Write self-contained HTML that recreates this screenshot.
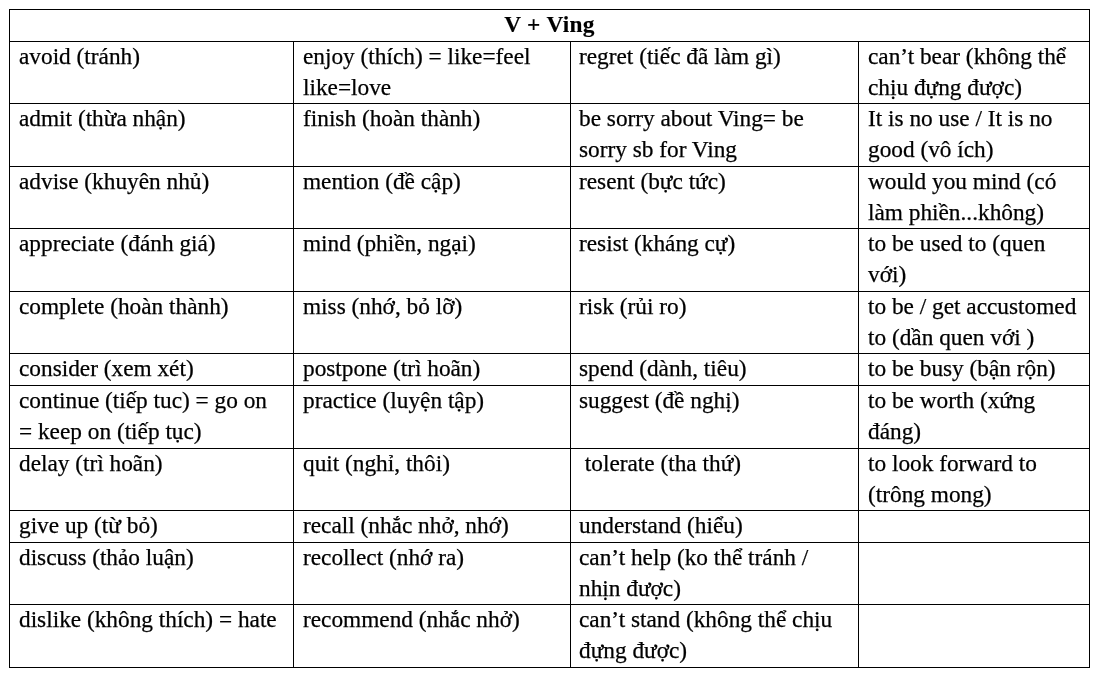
<!DOCTYPE html>
<html lang="vi">
<head>
<meta charset="utf-8">
<title>V + Ving</title>
<style>
html,body{margin:0;padding:0;background:#fff;}
body{width:1097px;height:677px;position:relative;overflow:hidden;
 font-family:"Liberation Serif","Times New Roman",Times,serif;font-size:23.3px;line-height:31.25px;color:#000;}
#sheet{position:absolute;left:0;top:0;width:1097px;height:677px;will-change:transform;}
.h,.v{position:absolute;background:#000;}
.h{height:1px;left:9px;width:1081px;}
.v{width:1px;}
.t{position:absolute;white-space:nowrap;margin:0;-webkit-text-stroke:0.25px #000;}
.hd{position:absolute;left:9px;width:1081px;text-align:center;font-weight:bold;white-space:nowrap;letter-spacing:0.35px;-webkit-text-stroke:0.15px #000;}
</style>
</head>
<body>
<div id="sheet">
<div class="h" style="top:9px"></div>
<div class="h" style="top:41px"></div>
<div class="h" style="top:103px"></div>
<div class="h" style="top:166px"></div>
<div class="h" style="top:228px"></div>
<div class="h" style="top:291px"></div>
<div class="h" style="top:353px"></div>
<div class="h" style="top:385px"></div>
<div class="h" style="top:448px"></div>
<div class="h" style="top:510px"></div>
<div class="h" style="top:542px"></div>
<div class="h" style="top:604px"></div>
<div class="h" style="top:667px"></div>
<div class="v" style="left:9px;top:9px;height:659px"></div>
<div class="v" style="left:1089px;top:9px;height:659px"></div>
<div class="v" style="left:293px;top:41px;height:627px"></div>
<div class="v" style="left:570px;top:41px;height:627px"></div>
<div class="v" style="left:858px;top:41px;height:627px"></div>
<div class="hd" style="top:9.00px">V + Ving</div>
<p class="t" style="left:19px;top:41.00px">avoid (tránh)</p>
<p class="t" style="left:303px;top:41.00px">enjoy (thích) = like=feel<br>like=love</p>
<p class="t" style="left:579px;top:41.00px">regret (tiếc đã làm gì)</p>
<p class="t" style="left:868px;top:41.00px">can’t bear (không thể<br>chịu đựng được)</p>
<p class="t" style="left:19px;top:103.00px">admit (thừa nhận)</p>
<p class="t" style="left:303px;top:103.00px">finish (hoàn thành)</p>
<p class="t" style="left:579px;top:103.00px">be sorry about Ving= be<br>sorry sb for Ving</p>
<p class="t" style="left:868px;top:103.00px">It is no use / It is no<br>good (vô ích)</p>
<p class="t" style="left:19px;top:166.00px">advise (khuyên nhủ)</p>
<p class="t" style="left:303px;top:166.00px">mention (đề cập)</p>
<p class="t" style="left:579px;top:166.00px">resent (bực tức)</p>
<p class="t" style="left:868px;top:166.00px">would you mind (có<br>làm phiền...không)</p>
<p class="t" style="left:19px;top:228.00px">appreciate (đánh giá)</p>
<p class="t" style="left:303px;top:228.00px">mind (phiền, ngại)</p>
<p class="t" style="left:579px;top:228.00px">resist (kháng cự)</p>
<p class="t" style="left:868px;top:228.00px">to be used to (quen<br>với)</p>
<p class="t" style="left:19px;top:291.00px">complete (hoàn thành)</p>
<p class="t" style="left:303px;top:291.00px">miss (nhớ, bỏ lỡ)</p>
<p class="t" style="left:579px;top:291.00px">risk (rủi ro)</p>
<p class="t" style="left:868px;top:291.00px">to be / get accustomed<br>to (dần quen với )</p>
<p class="t" style="left:19px;top:353.00px">consider (xem xét)</p>
<p class="t" style="left:303px;top:353.00px">postpone (trì hoãn)</p>
<p class="t" style="left:579px;top:353.00px">spend (dành, tiêu)</p>
<p class="t" style="left:868px;top:353.00px">to be busy (bận rộn)</p>
<p class="t" style="left:19px;top:385.00px">continue (tiếp tuc) = go on<br>= keep on (tiếp tục)</p>
<p class="t" style="left:303px;top:385.00px">practice (luyện tập)</p>
<p class="t" style="left:579px;top:385.00px">suggest (đề nghị)</p>
<p class="t" style="left:868px;top:385.00px">to be worth (xứng<br>đáng)</p>
<p class="t" style="left:19px;top:448.00px">delay (trì hoãn)</p>
<p class="t" style="left:303px;top:448.00px">quit (nghỉ, thôi)</p>
<p class="t" style="left:579px;top:448.00px">&nbsp;tolerate (tha thứ)</p>
<p class="t" style="left:868px;top:448.00px">to look forward to<br>(trông mong)</p>
<p class="t" style="left:19px;top:510.00px">give up (từ bỏ)</p>
<p class="t" style="left:303px;top:510.00px">recall (nhắc nhở, nhớ)</p>
<p class="t" style="left:579px;top:510.00px">understand (hiểu)</p>
<p class="t" style="left:19px;top:542.00px">discuss (thảo luận)</p>
<p class="t" style="left:303px;top:542.00px">recollect (nhớ ra)</p>
<p class="t" style="left:579px;top:542.00px">can’t help (ko thể tránh /<br>nhịn được)</p>
<p class="t" style="left:19px;top:604.00px">dislike (không thích) = hate</p>
<p class="t" style="left:303px;top:604.00px">recommend (nhắc nhở)</p>
<p class="t" style="left:579px;top:604.00px">can’t stand (không thể chịu<br>đựng được)</p>
</div>
</body>
</html>
